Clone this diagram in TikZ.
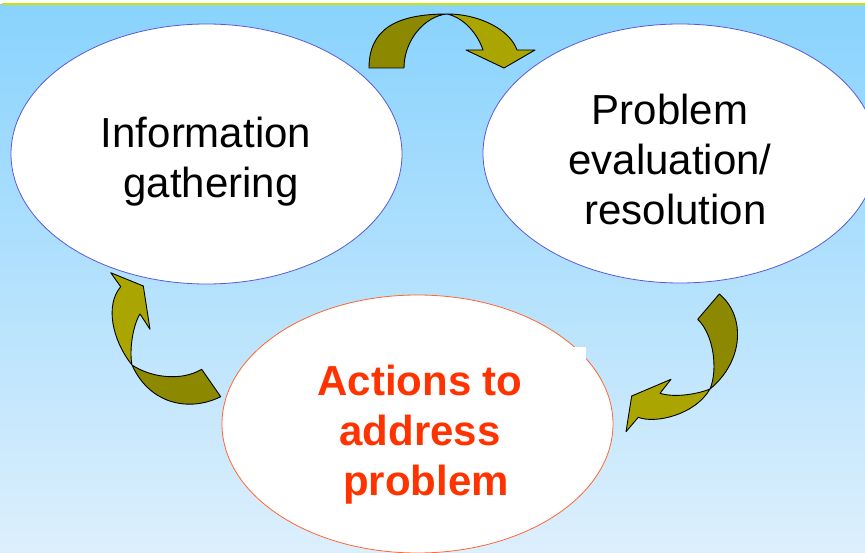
\documentclass[tikz,border=0pt]{standalone}
\usepackage{fontspec}
\setmainfont{Liberation Sans}
\usetikzlibrary{shapes.geometric}
\definecolor{bgtop}{RGB}{137,211,253}
\definecolor{bgbot}{RGB}{221,239,253}
\definecolor{olivedark}{RGB}{140,137,0}
\definecolor{olivelight}{RGB}{170,165,0}
\definecolor{ellblue}{RGB}{90,90,215}
\definecolor{ellred}{RGB}{255,102,51}
\definecolor{txtred}{RGB}{255,51,0}
\definecolor{topline}{RGB}{200,228,0}
\tikzset{
  bubble/.style={ellipse, draw=ellblue, fill=white, line width=0.8pt, inner sep=0pt},
  redbubble/.style={bubble, draw=ellred},
  label42/.style={align=center, font=\fontsize{42}{50}\selectfont, text=black},
  redlabel/.style={align=center, font=\fontsize{42}{50}\selectfont\bfseries, text=txtred},
  backface/.style={fill=olivedark, draw=black, line width=0.9pt, line join=round},
  frontface/.style={fill=olivelight, draw=black, line width=0.9pt, line join=round}
}
\begin{document}
\begin{tikzpicture}[x=1pt,y=-1pt]
\useasboundingbox (0,0) rectangle (865,553);
\fill[white] (0,0) rectangle (865,553);
\fill[top color=bgtop, bottom color=bgbot] (0,5) rectangle (865,553);
\draw[topline, line width=1.8pt] (2,4.2) -- (865,4.2);

% ellipses
\node[bubble, minimum width=391pt, minimum height=260pt] (info) at (206.5,154) {};
\node[bubble, minimum width=394pt, minimum height=259pt] (eval) at (680,153.5) {};
\node[redbubble, minimum width=391pt, minimum height=258pt] (act) at (417.5,424) {};
\fill[white] (573,347) rectangle (586,359);

% texts
\node[label42] (infotxt) at (208,162) {Information\hspace*{4pt}\\\hspace*{6pt}gathering};
\node[label42] (evaltxt) at (670,159) {Problem\\evaluation/\\\hspace*{11pt}resolution};
\node[redlabel] (acttxt) at (420,435) {Actions to\\address\\\hspace*{12pt}problem};

% top arrow
\path[backface] (369,68) .. controls (369,30) and (395,14) .. (447,14)
  .. controls (425,16) and (404,40) .. (404,68) -- cycle;
\path[frontface] (447,14) .. controls (480,14) and (510,30) .. (517,50)
  -- (535,50) -- (504,68) -- (466,50) -- (483,50)
  .. controls (478,35) and (465,18) .. (447,14) -- cycle;

% left arrow
\path[backface] (132,365) .. controls (150,377) and (180,382) .. (201.7,369.3)
  -- (220.7,396.7) .. controls (190,412) and (150,405) .. (132,365) -- cycle;
\path[frontface] (132,365) .. controls (112,340) and (105,305) .. (120.7,286.7)
  -- (110.7,272.7) -- (143.3,286) -- (150,329.3) -- (140,314)
  .. controls (133,325) and (129,350) .. (132,365) -- cycle;

% right arrow
\path[backface] (719.3,294) .. controls (745,315) and (745,360) .. (710,389)
  .. controls (718,370) and (714,335) .. (697.7,319.3) -- cycle;
\path[frontface] (710,389) .. controls (695,415) and (655,424) .. (638.3,417.3)
  -- (626,431.7) -- (631.7,396) -- (671,379.3) -- (660,393.3)
  .. controls (675,398) and (698,394) .. (710,389) -- cycle;
\end{tikzpicture}
\end{document}
